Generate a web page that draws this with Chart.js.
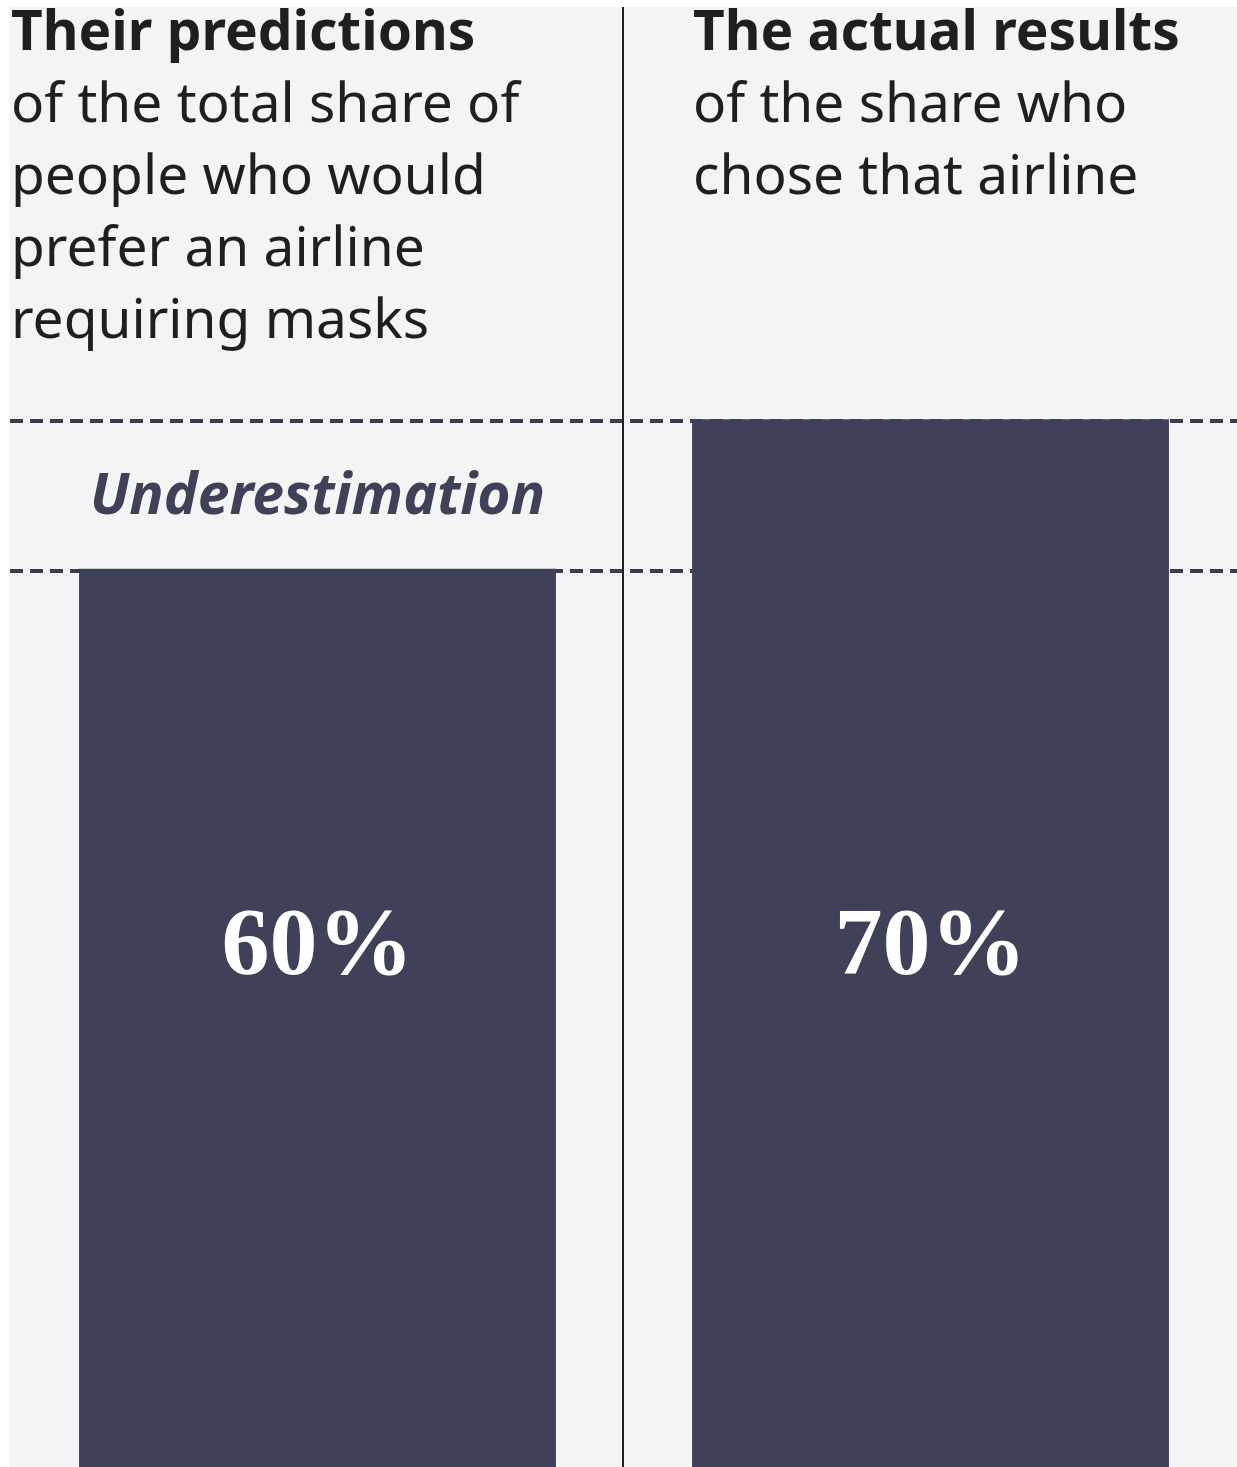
<!DOCTYPE html>
<html>
<head>
<meta charset="utf-8">
<script src="https://cdn.jsdelivr.net/npm/chart.js@4.4.1/dist/chart.umd.min.js"></script>
<style>
  html, body { margin: 0; padding: 0; background: #ffffff; }
  #wrap { position: relative; width: 1237px; height: 1467px; overflow: hidden; }
  #panel { position: absolute; left: 10px; top: 7px; right: 0; bottom: 0; background: #f4f4f4; }
  #c { position: absolute; left: 0; top: 0; }
  .head { position: absolute; top: -7px; font-family: "Noto Sans", sans-serif; font-size: 55px; line-height: 72px; color: #1f1f1f; white-space: nowrap; }
  .head b { font-weight: 700; }
</style>
</head>
<body>
<div id="wrap">
  <div id="panel"></div>
  <canvas id="c" width="1237" height="1467"></canvas>
  <div class="head" id="h0" style="left:11px"></div>
  <div class="head" id="h1" style="left:693px"></div>
</div>
<script>
// ---- data ----
const categories = ["Their predictions", "The actual results"];
const values = [60, 70];
const headingBold = ["Their predictions", "The actual results"];
const headingLines = [
  ["of the total share of", "people who would", "prefer an airline", "requiring masks"],
  ["of the share who", "chose that airline"]
];
const gapLabel = "Underestimation";
const yMax = 98;
const labelLevel = 35.2;

// ---- headings (HTML text) ----
headingBold.forEach((t, i) => {
  const el = document.getElementById("h" + i);
  el.innerHTML = "<b>" + t + "</b><br>" + headingLines[i].join("<br>");
});

const barColor = "#3f4159";

const decor = {
  id: "decor",
  beforeDatasetsDraw(chart) {
    const { ctx, scales: { x, y } } = chart;
    ctx.save();
    // dashed reference lines at each value
    ctx.strokeStyle = "#3a3c50";
    ctx.lineWidth = 4;
    ctx.setLineDash([13, 7]);
    values.forEach(v => {
      const py = Math.round(y.getPixelForValue(v)) + 2;
      ctx.beginPath();
      ctx.moveTo(10, py);
      ctx.lineTo(chart.width, py);
      ctx.stroke();
    });
    ctx.setLineDash([]);
    // vertical divider between categories
    const xm = (x.getPixelForValue(0) + x.getPixelForValue(1)) / 2 - 1;
    ctx.strokeStyle = "#222222";
    ctx.lineWidth = 2;
    ctx.beginPath();
    ctx.moveTo(xm, 7);
    ctx.lineTo(xm, chart.height);
    ctx.stroke();
    ctx.restore();
  },
  afterDatasetsDraw(chart) {
    const { ctx, scales: { x, y } } = chart;
    ctx.save();
    // value labels
    ctx.fillStyle = "#ffffff";
    ctx.font = "bold 96px 'Liberation Serif', serif";
    ctx.textAlign = "center";
    ctx.textBaseline = "alphabetic";
    values.forEach((v, i) => {
      ctx.fillText(v + "%", x.getPixelForValue(i), y.getPixelForValue(labelLevel) + 34);
    });
    // gap label between prediction and result
    const lo = Math.min(...values), hi = Math.max(...values);
    ctx.fillStyle = "#3f4159";
    ctx.font = "italic bold 57px 'Noto Sans', sans-serif";
    ctx.fillText(gapLabel, x.getPixelForValue(0), y.getPixelForValue((lo + hi) / 2) + 20);
    ctx.restore();
  }
};

new Chart(document.getElementById("c"), {
  type: "bar",
  data: {
    labels: categories,
    datasets: [{
      data: values,
      backgroundColor: barColor,
      borderWidth: 0,
      categoryPercentage: 1,
      barPercentage: 0.778
    }]
  },
  options: {
    responsive: false,
    animation: false,
    events: [],
    layout: { padding: { left: 11, right: 0, top: 0, bottom: 0 } },
    plugins: { legend: { display: false }, tooltip: { enabled: false } },
    scales: {
      x: { display: false },
      y: { display: false, min: 0, max: yMax }
    }
  },
  plugins: [decor]
});
</script>
</body>
</html>
